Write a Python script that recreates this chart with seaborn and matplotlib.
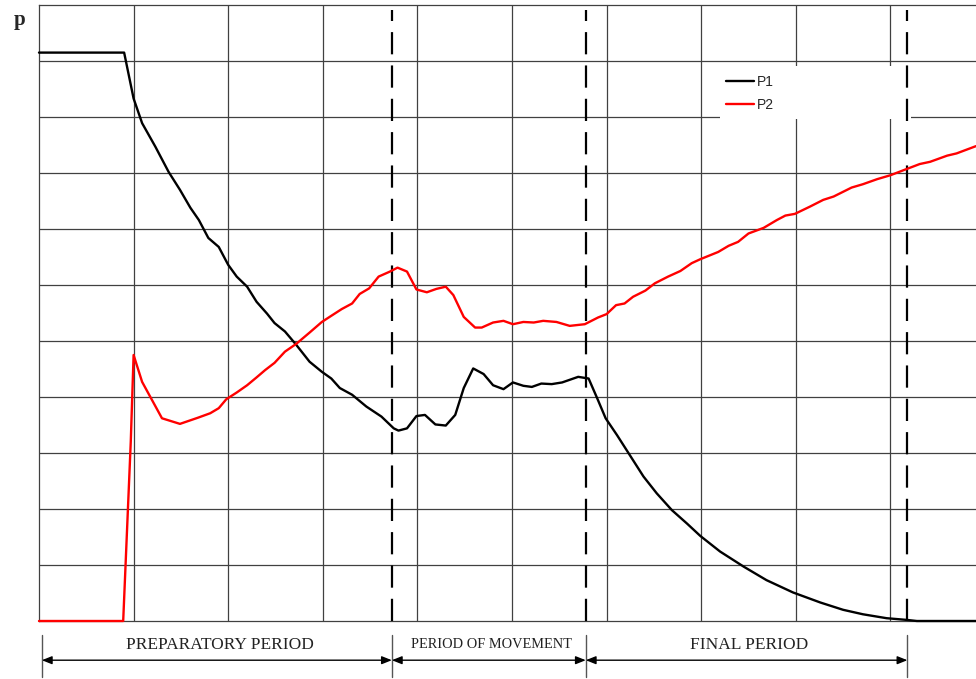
import numpy as np
import pandas as pd
import matplotlib
matplotlib.use('Agg')
import matplotlib.pyplot as plt
from matplotlib.patches import Rectangle
import seaborn as sns

sns.set_style('white')
plt.rcParams['font.family'] = ['Liberation Sans', 'DejaVu Sans']

# time axis in grid units (one unit = one grid cell), pressure in grid units
p1_t = [0.00, 0.90, 1.00, 1.09, 1.23, 1.37, 1.49, 1.60, 1.69, 1.79, 1.90, 2.00, 2.09, 2.20,
        2.30, 2.41, 2.49, 2.60, 2.72, 2.86, 2.99, 3.09, 3.18, 3.31, 3.46, 3.62, 3.75, 3.80,
        3.89, 3.99, 4.08, 4.19, 4.30, 4.40, 4.49, 4.59, 4.70, 4.80, 4.91, 5.01, 5.12, 5.21,
        5.31, 5.42, 5.53, 5.70, 5.81, 5.90, 5.99, 6.11, 6.25, 6.39, 6.53, 6.69, 6.85, 6.99,
        7.20, 7.45, 7.69, 7.97, 8.26, 8.50, 8.71, 8.96, 9.17, 9.28, 9.905]
p1_val = [10.15, 10.15, 9.33, 8.89, 8.47, 8.02, 7.70, 7.38, 7.16, 6.84, 6.68, 6.36, 6.15, 5.97,
          5.70, 5.49, 5.32, 5.17, 4.93, 4.63, 4.45, 4.33, 4.16, 4.04, 3.83, 3.65, 3.44, 3.40,
          3.44, 3.66, 3.68, 3.51, 3.49, 3.68, 4.16, 4.51, 4.41, 4.21, 4.14, 4.26, 4.20, 4.18,
          4.24, 4.23, 4.26, 4.36, 4.33, 3.98, 3.62, 3.32, 2.95, 2.58, 2.28, 1.98, 1.74, 1.52,
          1.24, 0.97, 0.73, 0.51, 0.33, 0.20, 0.12, 0.05, 0.02, 0.00, 0.00]

p2_t = [0.00, 0.89, 0.97, 1.00, 1.09, 1.30, 1.49, 1.68, 1.81, 1.90, 1.98, 2.09, 2.20, 2.30, 2.39,
        2.49, 2.60, 2.72, 2.86, 2.99, 3.09, 3.20, 3.31, 3.39, 3.49, 3.59, 3.71, 3.79, 3.89,
        3.99, 4.10, 4.20, 4.30, 4.38, 4.49, 4.61, 4.68, 4.80, 4.91, 5.01, 5.12, 5.23, 5.33,
        5.47, 5.61, 5.77, 5.91, 6.00, 6.10, 6.19, 6.28, 6.41, 6.51, 6.65, 6.78, 6.90, 6.99,
        7.18, 7.29, 7.39, 7.50, 7.66, 7.80, 7.89, 7.99, 8.15, 8.29, 8.40, 8.59, 8.71, 8.86,
        9.00, 9.17, 9.31, 9.42, 9.60, 9.70, 9.905]
p2_val = [0.00, 0.00, 3.20, 4.75, 4.27, 3.62, 3.52, 3.63, 3.71, 3.80, 3.96, 4.08, 4.21, 4.35, 4.48,
          4.61, 4.81, 4.95, 5.15, 5.34, 5.45, 5.57, 5.67, 5.84, 5.94, 6.15, 6.24, 6.31, 6.24,
          5.92, 5.87, 5.93, 5.97, 5.82, 5.43, 5.24, 5.24, 5.33, 5.36, 5.30, 5.34, 5.33, 5.36,
          5.34, 5.27, 5.30, 5.42, 5.48, 5.64, 5.67, 5.79, 5.90, 6.03, 6.15, 6.25, 6.39, 6.46,
          6.59, 6.70, 6.77, 6.92, 7.02, 7.16, 7.24, 7.27, 7.40, 7.52, 7.58, 7.74, 7.80, 7.89,
          7.96, 8.07, 8.16, 8.20, 8.31, 8.35, 8.48]

period_bounds = [0.03, 3.73, 5.78, 9.18]
period_labels = ['PREPARATORY PERIOD', 'PERIOD OF MOVEMENT', 'FINAL PERIOD']
period_sizes = [12.5, 10.4, 12.5]

df = pd.concat([
    pd.DataFrame({'t': p1_t, 'p': p1_val, 'series': 'P1'}),
    pd.DataFrame({'t': p2_t, 'p': p2_val, 'series': 'P2'}),
])

fig = plt.figure(figsize=(9.76, 6.79), dpi=100)
ax = fig.add_axes([39 / 976, 58 / 679, 937 / 976, 616 / 679])

sns.lineplot(data=df, x='t', y='p', hue='series', palette={'P1': 'black', 'P2': 'red'},
             estimator=None, sort=False, linewidth=1.7, zorder=4, clip_on=False, ax=ax)

ax.set_xlim(0, 9.905)
ax.set_ylim(0, 11)
ax.set_xticks(range(1, 10))
ax.set_yticks(range(1, 11))
ax.tick_params(length=0, labelbottom=False, labelleft=False)
ax.set_xlabel('')
ax.set_ylabel('')
ax.grid(True, color='#404040', linewidth=0.9)
for side in ['left', 'top', 'bottom']:
    ax.spines[side].set_color('#404040')
    ax.spines[side].set_linewidth(0.9)
ax.spines['right'].set_visible(False)

# white box behind the legend, hides the grid there
ax.add_patch(Rectangle((7.20, 8.96), 2.02, 0.95, facecolor='white', edgecolor='none', zorder=2.6))

# period boundaries
ax.vlines(period_bounds[1:], 0, 10.91, colors='black', linewidth=1.6,
          linestyles=(0, (10, 5)), zorder=3)

handles, labels = ax.get_legend_handles_labels()
ax.legend(handles, labels, loc='upper left', bbox_to_anchor=(0.733, 0.886), frameon=False,
          borderpad=0, borderaxespad=0, handlelength=2.0, handletextpad=0.2,
          labelspacing=0.65, fontsize=10)

# period annotations under the axis
for x in period_bounds:
    ax.plot([x, x], [-0.25, -1.0], color='#555555', linewidth=1, clip_on=False)
for i, lab in enumerate(period_labels):
    x0, x1 = period_bounds[i], period_bounds[i + 1]
    ax.annotate('', xy=(x1, -0.70), xytext=(x0, -0.70), annotation_clip=False,
                arrowprops=dict(arrowstyle='<|-|>,head_length=0.5,head_width=0.2',
                                color='black', lw=1, mutation_scale=12,
                                shrinkA=0, shrinkB=0))
    ax.text((x0 + x1) / 2 + 0.03, -0.42, lab, ha='center', va='center', fontsize=period_sizes[i],
            family=['Liberation Serif', 'DejaVu Serif'], color='#222222', clip_on=False)

fig.text(14 / 976, 1 - 20 / 679, 'p', fontsize=15, fontweight='bold',
         family=['Liberation Serif', 'DejaVu Serif'], ha='left', va='center')

fig.savefig('out.png', dpi=100)
